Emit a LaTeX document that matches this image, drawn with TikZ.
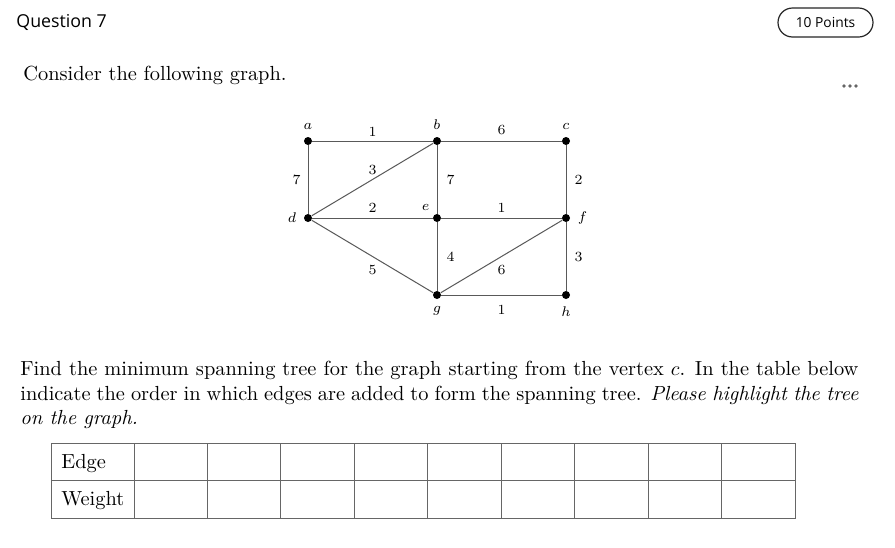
\documentclass[tikz,border=0pt]{standalone}
\usepackage{fontspec}
\newfontfamily\uifont{Open Sans}
\usetikzlibrary{positioning}

\begin{document}
\begin{tikzpicture}[x=0.5pt,y=-0.5pt,
    vertex/.style={circle,fill=black,inner sep=0pt,minimum size=4pt},
    edge/.style={draw=black!65,line width=0.5pt},
    wt/.style={font=\fontsize{7}{8.4}\selectfont,inner sep=2pt},
    body/.style={font=\fontsize{10.2}{12.25}\selectfont,inner sep=0pt},
    grid/.style={draw=black!60,line width=0.5pt}]
    \fill[white] (0,0) rectangle (895,547);
    \useasboundingbox (0,0) rectangle (895,547);
    % header
    \node[font=\uifont\fontsize{8.9}{10}\selectfont,anchor=west,inner sep=0pt] (qtitle) at (16,22) {Question 7};
    \node[font=\uifont\fontsize{6.9}{8}\selectfont,draw=black!85,line width=0.6pt,rounded corners=7.25pt,
          minimum width=47.5pt,minimum height=14.5pt,inner sep=0pt] (points) at (825.5,22.5) {10 Points};
    \foreach \x in {844,850,856}
        \fill[black!60] (\x,86) circle (1.8);
    \node[body,anchor=base west] (intro) at (23,80) {Consider the following graph.};
    % graph
    \begin{scope}[every label/.style={font=\fontsize{7}{8.4}\selectfont,inner sep=2pt},label distance=1.5pt]
        \node[vertex,label=above:$a$] (a) at (308,141) {};
        \node[vertex,label=above:$b$] (b) at (437,141) {};
        \node[vertex,label=above:$c$] (c) at (566,141) {};
        \node[vertex,label=left:$d$] (d) at (308,218) {};
        \node[vertex,label={[label distance=0pt]above left:$e$}] (e) at (437,218) {};
        \node[vertex,label=right:$f$] (f) at (566,218) {};
        \node[vertex,label=below:$g$] (g) at (437,295) {};
        \node[vertex,label=below:$h$] (h) at (566,295) {};
        \draw[edge] (a) -- node[wt,above=0pt] (wab) {1} (b);
        \draw[edge] (b) -- node[wt,above=1pt] (wbc) {6} (c);
        \draw[edge] (a) -- node[wt,left=1.5pt] (wad) {7} (d);
        \draw[edge] (d) -- node[wt,above=0.3pt] (wbd) {3} (b);
        \draw[edge] (b) -- node[wt,right=2.5pt] (wbe) {7} (e);
        \draw[edge] (c) -- node[wt,right=2pt] (wcf) {2} (f);
        \draw[edge] (d) -- node[wt,above=0.5pt] (wde) {2} (e);
        \draw[edge] (e) -- node[wt,above=0.5pt] (wef) {1} (f);
        \draw[edge] (d) -- node[wt,below=2.3pt] (wdg) {5} (g);
        \draw[edge] (e) -- node[wt,right=2.5pt] (weg) {4} (g);
        \draw[edge] (g) -- node[wt,below=2.3pt] (wfg) {6} (f);
        \draw[edge] (f) -- node[wt,right=2pt] (wfh) {3} (h);
        \draw[edge] (g) -- node[wt,below=3pt] (wgh) {1} (h);
    \end{scope}
    % question text
    \node[body,anchor=north west,text width=419pt,align=justify] (task) at (20,361)
        {Find the minimum spanning tree for the graph starting from the vertex $c$. In the table below
         indicate the order in which edges are added to form the spanning tree. \textit{Please highlight the tree
         on the graph.}};
    % table
    \draw[grid] (51,443) rectangle (795,518);
    \draw[grid] (51,480.5) -- (795,480.5);
    \foreach \i in {0,...,8}
        \draw[grid] ({134+\i*73.44},443) -- ({134+\i*73.44},518);
    \node[body,anchor=base west] (edgehead) at (61,468) {Edge};
    \node[body,anchor=base west] (weighthead) at (61,505.5) {Weight};
\end{tikzpicture}
\end{document}
